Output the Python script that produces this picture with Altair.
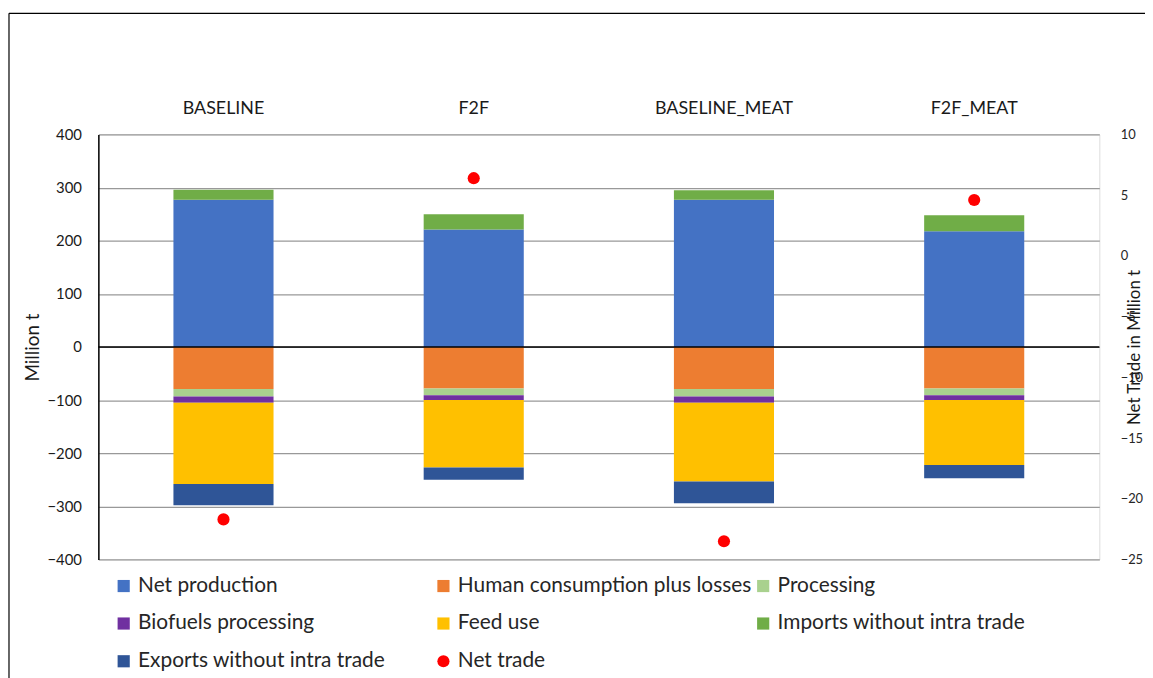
import altair as alt
import pandas as pd

scenarios = ["BASELINE", "F2F", "BASELINE_MEAT", "F2F_MEAT"]

net_production = [277, 221, 277, 218]
human_consumption = [-79, -78, -79, -78]
processing = [-14, -13, -14, -13]
biofuels = [-12, -9, -12, -9]
feed_use = [-153, -127, -148, -122]
imports = [19, 29, 18, 30]
exports = [-40, -23, -41, -25]
net_trade = [-21.7, 6.4, -23.5, 4.6]

series_names = [
    "Net production",
    "Human consumption plus losses",
    "Processing",
    "Biofuels processing",
    "Feed use",
    "Imports without intra trade",
    "Exports without intra trade",
    "Net trade",
]
series_colors = ["#4472C4", "#ED7D31", "#A9D18E", "#7030A0", "#FFC000",
                 "#70AD47", "#2F5597", "#FF0000"]
series_shapes = ["square"] * 7 + ["circle"]
series_sizes = [150] * 7 + [95]

bar_series = [net_production, human_consumption, processing, biofuels,
              feed_use, imports, exports]

rows = []
for k, vals in enumerate(bar_series):
    for i, s in enumerate(scenarios):
        rows.append({"scenario": s, "series": series_names[k],
                     "value": vals[i], "order": k})
df_bars = pd.DataFrame(rows)
df_trade = pd.DataFrame({"scenario": scenarios, "net_trade": net_trade,
                         "series": ["Net trade"] * len(scenarios)})
df_zero = pd.DataFrame({"zero": [0]})

FONT = "Lato"
color_scale = alt.Scale(domain=series_names, range=series_colors)
shape_scale = alt.Scale(domain=series_names, range=series_shapes)
size_scale = alt.Scale(domain=series_names, range=series_sizes)

legend = alt.Legend(
    title=None, orient="none", legendX=15, legendY=444, columns=3,
    direction="horizontal", gridAlign="all", columnPadding=1, rowPadding=16,
    symbolStrokeWidth=0,
    labelFont=FONT, labelFontSize=21, labelColor="#262626",
    labelOffset=4, labelLimit=500,
)

x_enc = alt.X("scenario:N", sort=scenarios,
              scale=alt.Scale(paddingInner=0.6, paddingOuter=0.3),
              axis=alt.Axis(orient="top", title=None, labelAngle=0, ticks=False,
                            domain=False, labelFont=FONT, labelFontSize=18,
                            labelPadding=17, labelColor="#1a1a1a"))

bars = alt.Chart(df_bars).mark_bar().encode(
    x=x_enc,
    y=alt.Y("value:Q", stack="zero",
            scale=alt.Scale(domain=[-400, 400], nice=False),
            axis=alt.Axis(values=list(range(-400, 401, 100)), title="Million t",
                          grid=True, gridColor="#999999", gridWidth=1.3,
                          domain=True, domainColor="#000000", domainWidth=1.5,
                          ticks=False, labelFont=FONT, labelFontSize=15,
                          labelColor="#1a1a1a", labelPadding=17,
                          titleFont=FONT, titleFontSize=19, titleFontWeight="normal",
                          titleColor="#1a1a1a", titlePadding=4)),
    color=alt.Color("series:N", scale=color_scale, legend=legend),
    order=alt.Order("order:Q"),
)

zero_rule = alt.Chart(df_zero).mark_rule(color="#000000", strokeWidth=1.5).encode(
    y=alt.Y("zero:Q"))

frame_left = alt.Chart(df_zero).mark_rule(color="#000000", strokeWidth=1.2).encode(
    x=alt.value(-90), y=alt.value(-122), y2=alt.value(600))
frame_top = alt.Chart(df_zero).mark_rule(color="#000000", strokeWidth=1.2).encode(
    x=alt.value(-90), x2=alt.value(1100), y=alt.value(-122))

points = alt.Chart(df_trade).mark_point(filled=True, opacity=1).encode(
    x=x_enc,
    y=alt.Y("net_trade:Q", scale=alt.Scale(domain=[-25, 10], nice=False),
            axis=alt.Axis(orient="right", values=list(range(-25, 11, 5)),
                          title="Net Trade in Million t", grid=False, domain=False,
                          ticks=False, labelFont=FONT, labelFontSize=13,
                          labelColor="#262626", labelPadding=21,
                          titleFont=FONT, titleFontSize=17, titleFontWeight="normal",
                          titleColor="#1a1a1a", titleAngle=270, titlePadding=1)),
    color=alt.Color("series:N", scale=color_scale, legend=legend),
    shape=alt.Shape("series:N", scale=shape_scale, legend=legend),
    size=alt.Size("series:N", scale=size_scale, legend=legend),
)

left = alt.layer(bars, zero_rule, frame_left, frame_top)
chart = alt.layer(left, points).resolve_scale(y="independent").properties(
    width=1008, height=428,
    autosize=alt.AutoSizeParams(type="none"),
    padding={"left": 91, "top": 125, "right": 46, "bottom": 117},
).configure_view(stroke=None).configure(font=FONT)

chart.save("out.html", embed_options={"renderer": "svg", "actions": False})
